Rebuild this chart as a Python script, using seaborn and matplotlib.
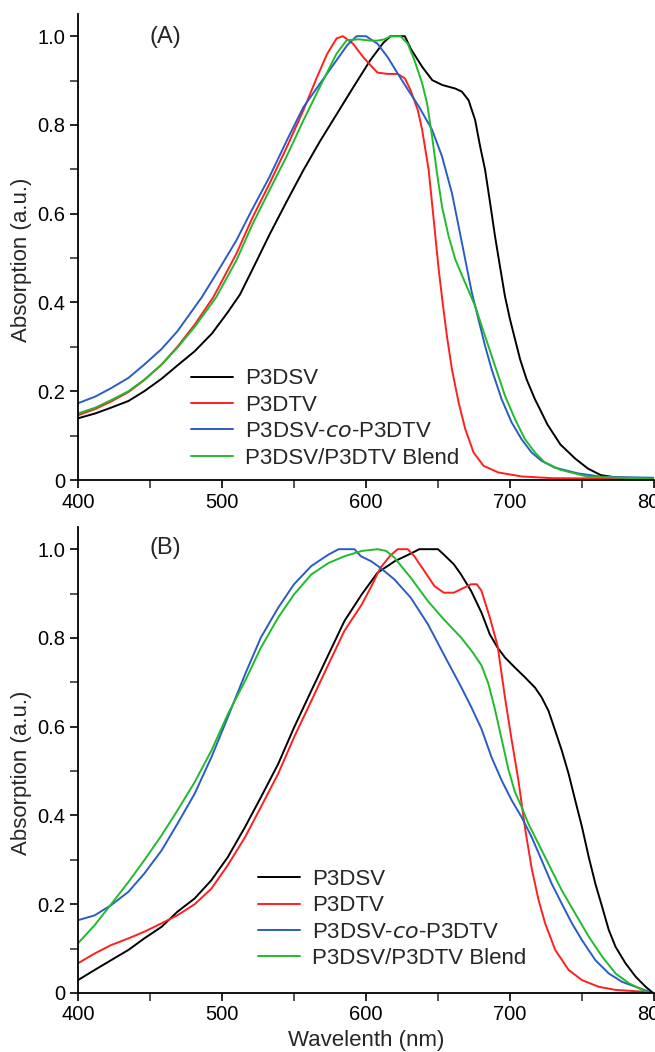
import numpy as np
import pandas as pd
import matplotlib
matplotlib.use("Agg")
import matplotlib.pyplot as plt
import seaborn as sns
from matplotlib.ticker import MultipleLocator, FixedLocator, FixedFormatter

sns.set_theme(style="ticks")
plt.rcParams['font.family'] = ['Liberation Sans', 'DejaVu Sans']

series_names = ["P3DSV", "P3DTV", "P3DSV-$\\it{co}$-P3DTV", "P3DSV/P3DTV Blend"]
series_colors = ["#000000", "#ff1f1f", "#2b5cc4", "#20bb2c"]

# ---------------- Panel A ----------------
a_black_x = [400, 412, 423, 435, 446, 458, 469, 481, 493, 504, 512.5, 522, 533, 545, 556.5, 568, 579.6, 591, 603, 612, 617, 627, 631, 639, 646, 653, 662, 666.6, 671.2, 675.8, 679.3, 682.7, 686.2, 689.6, 693, 696.5, 700, 703.5, 707, 711.5, 717.3, 720.7, 726, 735, 745, 754, 763, 775, 800]
a_black_y = [0.139, 0.15, 0.163, 0.178, 0.2, 0.228, 0.258, 0.29, 0.33, 0.378, 0.418, 0.48, 0.553, 0.628, 0.698, 0.763, 0.824, 0.884, 0.946, 0.985, 1.0, 1.0, 0.972, 0.931, 0.901, 0.89, 0.882, 0.875, 0.856, 0.811, 0.751, 0.699, 0.624, 0.549, 0.482, 0.414, 0.362, 0.317, 0.272, 0.227, 0.182, 0.16, 0.125, 0.08, 0.049, 0.026, 0.011, 0.005, 0.002]

a_red_x = [400, 412, 423, 435, 446, 458, 469, 481, 494, 510, 521, 533, 545, 556.5, 566, 573, 579.6, 584, 591, 598, 603, 608, 615, 622, 627, 631, 636, 639, 643.5, 647, 650.5, 653.2, 656.2, 659.7, 664.3, 668.9, 674.7, 681.6, 691.9, 708, 730, 800]
a_red_y = [0.146, 0.16, 0.177, 0.198, 0.225, 0.26, 0.3, 0.35, 0.412, 0.51, 0.59, 0.668, 0.75, 0.833, 0.908, 0.96, 0.995, 1.0, 0.983, 0.953, 0.935, 0.918, 0.915, 0.915, 0.905, 0.878, 0.833, 0.789, 0.699, 0.587, 0.474, 0.4, 0.324, 0.249, 0.175, 0.115, 0.062, 0.032, 0.017, 0.008, 0.004, 0.003]

a_blue_x = [400, 412, 423, 435, 446, 458, 469, 486, 498, 510, 521, 533, 545, 556.5, 568, 579.6, 587, 593.5, 600, 608, 615, 622, 629, 637, 645.9, 652.8, 659.7, 664.3, 668.9, 673.5, 678.1, 682.7, 687.3, 694.2, 701.1, 708, 715, 722, 731, 747, 763, 800]
a_blue_y = [0.173, 0.188, 0.207, 0.23, 0.26, 0.295, 0.335, 0.412, 0.475, 0.54, 0.61, 0.683, 0.765, 0.84, 0.893, 0.946, 0.98, 1.0, 1.0, 0.983, 0.953, 0.916, 0.88, 0.84, 0.789, 0.729, 0.646, 0.572, 0.497, 0.422, 0.362, 0.302, 0.249, 0.182, 0.13, 0.092, 0.062, 0.043, 0.028, 0.015, 0.0075, 0.005]

a_green_x = [400, 412, 423, 435, 446, 458, 469, 481, 496, 510, 521, 533, 545, 556.5, 568, 579.6, 586.6, 595, 603, 608, 613, 617, 624, 629, 633.6, 639, 642.4, 645.9, 649.3, 652.8, 657.4, 662, 668.9, 675.8, 682.7, 689.6, 696.5, 703.5, 710.4, 717.3, 724, 735, 754, 800]
a_green_y = [0.15, 0.163, 0.18, 0.2, 0.226, 0.26, 0.298, 0.345, 0.412, 0.495, 0.575, 0.653, 0.73, 0.81, 0.886, 0.961, 0.991, 0.993, 0.99, 0.99, 0.993, 1.0, 1.0, 0.983, 0.946, 0.894, 0.849, 0.774, 0.691, 0.616, 0.549, 0.497, 0.444, 0.392, 0.324, 0.257, 0.19, 0.137, 0.092, 0.062, 0.04, 0.023, 0.0075, 0.003]

# ---------------- Panel B ----------------
b_black_x = [400, 411.6, 423, 435, 446, 458, 469, 481, 492.6, 504, 516, 527, 539, 550, 562, 574, 585, 597, 608, 620, 631, 637, 650, 654, 661, 666, 673, 680.2, 686, 691.4, 696.5, 703.5, 710.5, 717.4, 722, 726.7, 731.4, 736, 740.7, 745.3, 750, 754.7, 759.3, 764, 768.6, 773.3, 780.2, 787.2, 794.2, 799]
b_black_y = [0.029, 0.052, 0.074, 0.097, 0.123, 0.149, 0.183, 0.213, 0.254, 0.306, 0.374, 0.441, 0.516, 0.598, 0.681, 0.763, 0.838, 0.898, 0.947, 0.973, 0.99, 1.0, 1.0, 0.988, 0.966, 0.943, 0.906, 0.857, 0.808, 0.778, 0.756, 0.733, 0.711, 0.688, 0.666, 0.636, 0.591, 0.546, 0.494, 0.434, 0.374, 0.306, 0.246, 0.194, 0.142, 0.104, 0.067, 0.037, 0.014, 0.001]

b_red_x = [400, 411.6, 423, 435, 446, 458, 469, 481, 492.6, 504, 516, 527, 539, 550, 562, 574, 585, 597, 603.5, 610, 617, 622, 629, 633.6, 640.5, 647.5, 654, 661, 668, 673, 677, 680.2, 686, 691.4, 696.5, 701.2, 705.8, 710.5, 715.1, 719.8, 724.4, 731.4, 740.7, 750, 761.6, 773.3, 791.9, 797]
b_red_y = [0.067, 0.089, 0.108, 0.123, 0.138, 0.157, 0.175, 0.2, 0.235, 0.288, 0.351, 0.419, 0.494, 0.576, 0.658, 0.741, 0.816, 0.875, 0.915, 0.958, 0.986, 1.0, 1.0, 0.984, 0.951, 0.917, 0.902, 0.902, 0.913, 0.921, 0.921, 0.906, 0.846, 0.782, 0.666, 0.569, 0.48, 0.37, 0.28, 0.21, 0.157, 0.097, 0.052, 0.029, 0.014, 0.007, 0.003, 0.0]

b_blue_x = [400, 411.6, 423, 435, 446, 458, 469, 481, 492.6, 504, 516, 527, 539, 550, 562, 574, 581, 592, 596.5, 603.5, 610, 619.7, 631, 643, 654, 666, 673, 680.2, 687.2, 694.2, 701.2, 708.1, 715.1, 722, 729, 736, 743, 750, 759.3, 768.6, 777.9, 787.2, 796.5]
b_blue_y = [0.164, 0.175, 0.198, 0.228, 0.269, 0.321, 0.381, 0.449, 0.531, 0.621, 0.718, 0.801, 0.868, 0.921, 0.962, 0.988, 1.0, 1.0, 0.984, 0.973, 0.958, 0.932, 0.891, 0.831, 0.763, 0.69, 0.645, 0.595, 0.531, 0.479, 0.434, 0.396, 0.351, 0.299, 0.246, 0.201, 0.157, 0.119, 0.074, 0.044, 0.025, 0.014, 0.003]

b_green_x = [400, 411.6, 423, 435, 446, 458, 469, 481, 492.6, 504, 516, 527, 539, 550, 562, 574, 585, 597, 608, 614, 619.7, 631, 643, 654, 666, 674, 680.2, 684.9, 689.5, 694.2, 698.8, 703.5, 708.1, 712.8, 719.8, 726.7, 736, 745.3, 754.7, 764, 773.3, 782.6, 791.9, 796.5]
b_green_y = [0.112, 0.153, 0.2, 0.25, 0.299, 0.355, 0.411, 0.475, 0.546, 0.628, 0.703, 0.778, 0.846, 0.898, 0.943, 0.969, 0.984, 0.996, 1.0, 0.996, 0.981, 0.936, 0.883, 0.842, 0.801, 0.768, 0.738, 0.698, 0.64, 0.572, 0.505, 0.452, 0.419, 0.381, 0.336, 0.291, 0.231, 0.179, 0.127, 0.082, 0.044, 0.022, 0.007, 0.0]

x_ticks = [400, 500, 600, 700, 800]
y_ticks = [0, 0.2, 0.4, 0.6, 0.8, 1.0]
y_tick_labels = ["0", "0.2", "0.4", "0.6", "0.8", "1.0"]
x_label = "Wavelenth (nm)"
y_label = "Absorption (a.u.)"
panel_labels = ["(A)", "(B)"]


def make_df(xs, ys):
    frames = []
    for name, x, y in zip(series_names, xs, ys):
        frames.append(pd.DataFrame({"wl": x, "abs": y, "series": name}))
    return pd.concat(frames, ignore_index=True)


df_a = make_df([a_black_x, a_red_x, a_blue_x, a_green_x],
               [a_black_y, a_red_y, a_blue_y, a_green_y])
df_b = make_df([b_black_x, b_red_x, b_blue_x, b_green_x],
               [b_black_y, b_red_y, b_blue_y, b_green_y])

W, H = 655, 1052
fig = plt.figure(figsize=(W / 100, H / 100), dpi=100)
ax_a = fig.add_axes([78 / W, 1 - 480 / H, 576 / W, 466 / H])
ax_b = fig.add_axes([78 / W, 1 - 993 / H, 576 / W, 466 / H])

palette = dict(zip(series_names, series_colors))

# legend anchor (left of handle, vertical centre of rows) in figure pixels
legend_anchor = {"A": (191, 418.5), "B": (258, 919)}
label_pos_y = {"A": 0.951, "B": 0.955}

for key, ax, df, lab in [("A", ax_a, df_a, panel_labels[0]),
                         ("B", ax_b, df_b, panel_labels[1])]:
    sns.lineplot(data=df, x="wl", y="abs", hue="series", hue_order=series_names,
                 palette=palette, sort=False, estimator=None, linewidth=1.4, ax=ax)
    ax.set_xlim(400, 800)
    ax.set_ylim(0, 1.05)
    ax.xaxis.set_major_locator(FixedLocator(x_ticks))
    ax.xaxis.set_minor_locator(MultipleLocator(50))
    ax.yaxis.set_major_locator(FixedLocator(y_ticks))
    ax.yaxis.set_major_formatter(FixedFormatter(y_tick_labels))
    ax.yaxis.set_minor_locator(MultipleLocator(0.1))
    ax.tick_params(axis="both", which="major", direction="out", length=6, width=1.2,
                   labelsize=14.5, colors="black", pad=3)
    ax.tick_params(axis="both", which="minor", direction="out", length=5.5, width=1.1)
    for s in ["top", "right"]:
        ax.spines[s].set_visible(False)
    for s in ["left", "bottom"]:
        ax.spines[s].set_linewidth(1.3)
        ax.spines[s].set_color("black")
    ax.set_ylabel(y_label, fontsize=16)
    ax.yaxis.set_label_coords(-0.08, 0.473)
    ax.set_xlabel("")
    ax.text(0.151, label_pos_y[key], lab, transform=ax.transAxes, fontsize=17,
            ha="center", va="center")
    lx, ly = legend_anchor[key]
    leg = ax.legend(loc="center left", bbox_to_anchor=(lx / W, 1 - ly / H),
                    bbox_transform=fig.transFigure, frameon=False,
                    fontsize=16, handlelength=1.9, handletextpad=0.55,
                    labelspacing=0.24, borderaxespad=0, borderpad=0)
    for line in leg.get_lines():
        line.set_linewidth(1.4)

ax_b.set_xlabel(x_label, fontsize=16)
ax_b.xaxis.set_label_coords(0.5, -0.08)

fig.savefig("out.png", dpi=100)
